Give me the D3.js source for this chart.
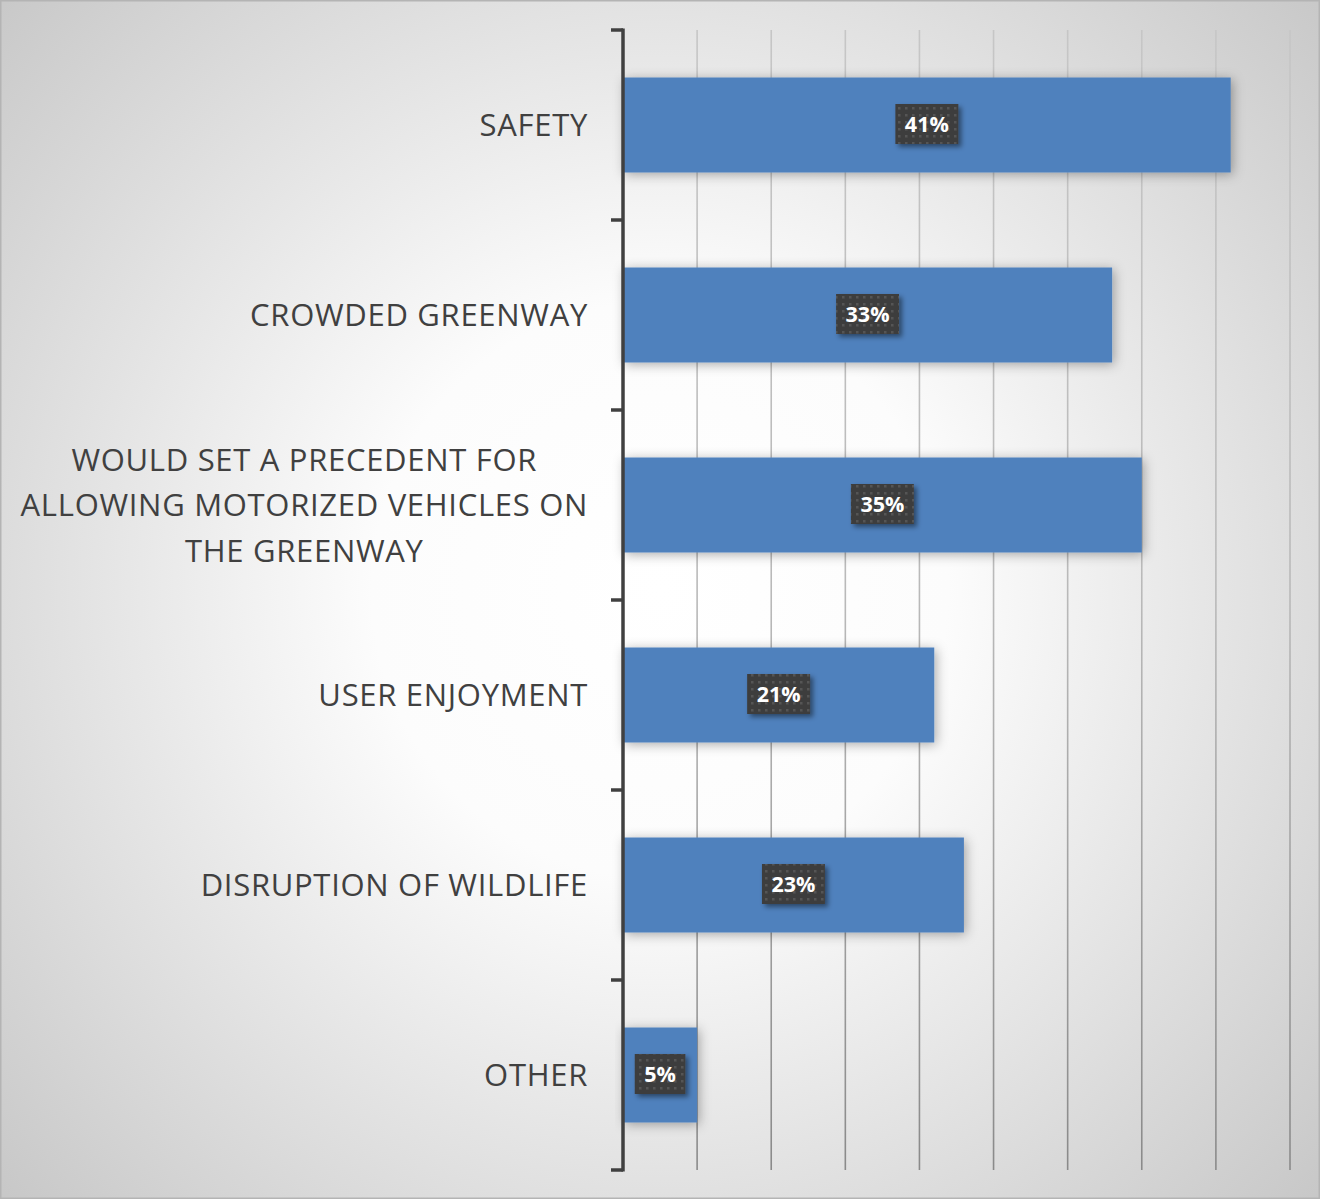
<!DOCTYPE html>
<html>
<head>
<meta charset="utf-8">
<script src="https://cdn.jsdelivr.net/npm/d3@7"></script>
<style>
  html, body { margin: 0; padding: 0; background: #ffffff; }
  svg { display: block; }
</style>
</head>
<body>
<svg id="chart" width="1320" height="1199"></svg>
<script>
// Concerns raised about the greenway, share of respondents
const categories = [
  "SAFETY",
  "CROWDED GREENWAY",
  "WOULD SET A PRECEDENT FOR ALLOWING MOTORIZED VEHICLES ON THE GREENWAY",
  "USER ENJOYMENT",
  "DISRUPTION OF WILDLIFE",
  "OTHER"
];
const values = [41, 33, 35, 21, 23, 5];
const gridTicks = [5, 10, 15, 20, 25, 30, 35, 40, 45];

const W = 1320, H = 1199;
const margin = { top: 30, right: 30, bottom: 29, left: 623 };

const svg = d3.select("#chart");
const defs = svg.append("defs");

// Soft vignette behind the whole chart
const bg = defs.append("radialGradient")
  .attr("id", "bgGrad")
  .attr("gradientUnits", "userSpaceOnUse")
  .attr("cx", 660).attr("cy", 590).attr("r", 960);
bg.append("stop").attr("offset", "0").attr("stop-color", "#ffffff");
bg.append("stop").attr("offset", "0.3").attr("stop-color", "#fcfcfc");
bg.append("stop").attr("offset", "1").attr("stop-color", "#c2c2c2");

// Gridlines fade from light at the top to darker at the bottom
const gg = defs.append("linearGradient")
  .attr("id", "gridGrad")
  .attr("gradientUnits", "userSpaceOnUse")
  .attr("x1", 0).attr("y1", margin.top).attr("x2", 0).attr("y2", H - margin.bottom);
gg.append("stop").attr("offset", "0").attr("stop-color", "#c6c6c6");
gg.append("stop").attr("offset", "0.5").attr("stop-color", "#b9b9b9");
gg.append("stop").attr("offset", "1").attr("stop-color", "#8a8a8a");

// Blurred shadow for bars
const barShadow = defs.append("filter").attr("id", "barShadow")
  .attr("x", "-10%").attr("y", "-40%").attr("width", "130%").attr("height", "180%");
barShadow.append("feDropShadow")
  .attr("dx", 2).attr("dy", 2).attr("stdDeviation", 6)
  .attr("flood-color", "#000").attr("flood-opacity", 0.33);

// Tighter shadow for value tags
const tagShadow = defs.append("filter").attr("id", "tagShadow")
  .attr("x", "-30%").attr("y", "-30%").attr("width", "170%").attr("height", "170%");
tagShadow.append("feDropShadow")
  .attr("dx", 3).attr("dy", 3).attr("stdDeviation", 2.5)
  .attr("flood-color", "#000").attr("flood-opacity", 0.45);

// Dotted texture for value tags
const dots = defs.append("pattern").attr("id", "dots")
  .attr("patternUnits", "userSpaceOnUse").attr("width", 7).attr("height", 7);
dots.append("rect").attr("width", 7).attr("height", 7).attr("fill", "#3e3e3e");
dots.append("rect").attr("x", 2).attr("y", 2).attr("width", 2.5).attr("height", 2.5).attr("fill", "#555555");

svg.append("rect").attr("width", W).attr("height", H).attr("fill", "url(#bgGrad)");
svg.append("rect").attr("x", 0.75).attr("y", 0.75).attr("width", W - 1.5).attr("height", H - 1.5)
  .attr("fill", "none").attr("stroke", "#b4b4b4").attr("stroke-width", 1.5);

const x = d3.scaleLinear().domain([0, 45]).range([margin.left, W - margin.right]);
const y = d3.scaleBand().domain(categories)
  .range([margin.top, H - margin.bottom]).paddingInner(0.5).paddingOuter(0.25);

// Vertical gridlines
svg.append("g").selectAll("line").data(gridTicks).join("line")
  .attr("x1", d => x(d)).attr("x2", d => x(d))
  .attr("y1", margin.top).attr("y2", H - margin.bottom)
  .attr("stroke", "url(#gridGrad)").attr("stroke-width", 1.6);

// Bars
const rows = categories.map((c, i) => ({ cat: c, v: values[i] }));
svg.append("g").selectAll("rect").data(rows).join("rect")
  .attr("x", x(0)).attr("y", d => y(d.cat))
  .attr("width", d => x(d.v) - x(0)).attr("height", y.bandwidth())
  .attr("fill", "#4f81bd")
  .attr("filter", "url(#barShadow)");

// Category axis: spine plus ticks at band boundaries
const step = y.step();
const bounds = categories.map(c => y(c) - step * y.paddingInner() / 2);
bounds.push(H - margin.bottom);
const axis = svg.append("g");
axis.append("line")
  .attr("x1", x(0)).attr("x2", x(0))
  .attr("y1", margin.top - 1.5).attr("y2", H - margin.bottom + 1.5)
  .attr("stroke", "#404040").attr("stroke-width", 3.5);
axis.selectAll("line.tick").data(bounds).join("line").attr("class", "tick")
  .attr("x1", x(0) - 12).attr("x2", x(0))
  .attr("y1", d => d).attr("y2", d => d)
  .attr("stroke", "#404040").attr("stroke-width", 3.5);

// Category labels, wrapped and centred as a block, right edge near the axis
const labelRight = x(0) - 35;
const maxLabelWidth = 590;
const lineGap = 45.5;
const labels = svg.append("g")
  .attr("font-family", "'Open Sans', 'DejaVu Sans', sans-serif")
  .attr("font-size", 31).attr("letter-spacing", 0.7).attr("fill", "#404040");

categories.forEach(cat => {
  const t = labels.append("text").attr("text-anchor", "middle");
  const words = cat.split(" ");
  const lines = [];
  let cur = [];
  const probe = t.append("tspan");
  words.forEach(w => {
    const trial = cur.concat(w).join(" ");
    probe.text(trial);
    if (probe.node().getComputedTextLength() > maxLabelWidth && cur.length) {
      lines.push(cur.join(" "));
      cur = [w];
    } else {
      cur.push(w);
    }
  });
  lines.push(cur.join(" "));
  let widest = 0;
  lines.forEach(l => { probe.text(l); widest = Math.max(widest, probe.node().getComputedTextLength()); });
  probe.remove();
  const cx = labelRight - widest / 2;
  const cy = y(cat) + y.bandwidth() / 2;
  const top = cy - (lines.length - 1) * lineGap / 2;
  lines.forEach((l, i) => {
    t.append("tspan").attr("x", cx).attr("y", top + i * lineGap)
      .attr("dy", "0.36em").text(l);
  });
});

// Value tags centred on each bar
const tags = svg.append("g")
  .attr("font-family", "'Open Sans', 'DejaVu Sans', sans-serif")
  .attr("font-weight", 700).attr("font-size", 21.5);
rows.forEach(d => {
  const cx = (x(0) + x(d.v)) / 2;
  const cy = y(d.cat) + y.bandwidth() / 2 - 1;
  const g = tags.append("g");
  const box = g.append("rect").attr("fill", "url(#dots)").attr("filter", "url(#tagShadow)");
  const txt = g.append("text").attr("x", cx).attr("y", cy).attr("dy", "0.36em")
    .attr("text-anchor", "middle").attr("fill", "#ffffff").text(d.v + "%");
  const tw = txt.node().getComputedTextLength();
  const bw = tw + 19, bh = 40;
  box.attr("x", cx - bw / 2).attr("y", cy - bh / 2).attr("width", bw).attr("height", bh);
});
</script>
</body>
</html>
